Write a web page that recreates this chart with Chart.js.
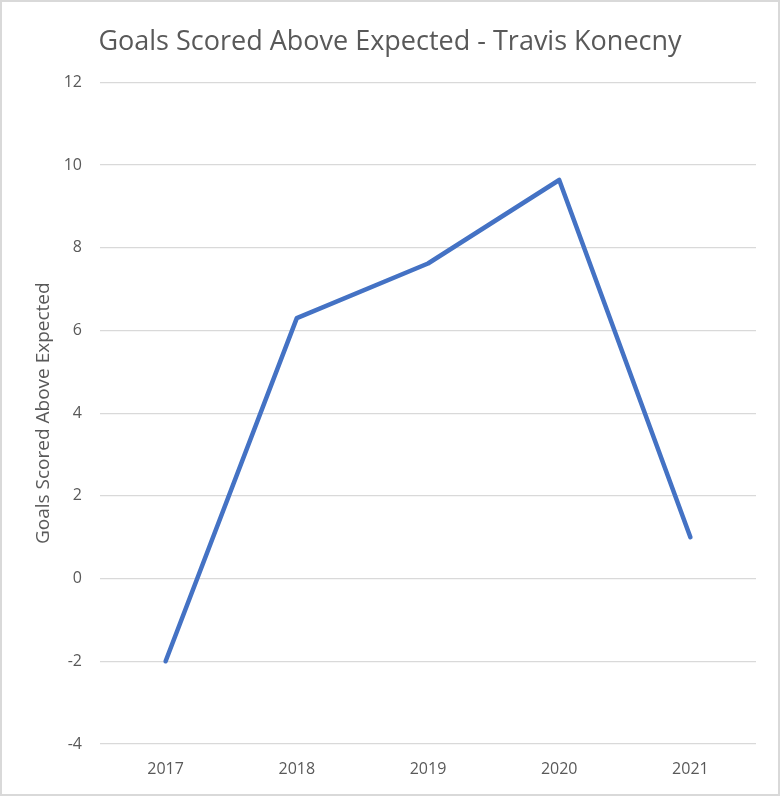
<!DOCTYPE html>
<html lang="en">
    <head>
        <meta charset="UTF-8" />
        <title>Goals Scored Above Expected - Travis Konecny</title>
        <script src="https://cdn.jsdelivr.net/npm/chart.js"></script>
        <style>
            html,
            body {
                margin: 0;
                padding: 0;
                background: #fff;
            }
            #wrap {
                width: 780px;
                height: 796px;
                box-sizing: border-box;
                border: 2px solid #d9d9d9;
                position: relative;
            }
        </style>
    </head>
    <body>
        <div id="wrap">
            <canvas id="chart"></canvas>
        </div>

        <script>
            // values
            const seasons = ["2017", "2018", "2019", "2020", "2021"]
            const goalsAboveExpected = [-2.0, 6.3, 7.62, 9.64, 1.0]
            const yMin = -4
            const yMax = 12
            const yStep = 2

            const grey = "#595959"
            const fontFamily = "'Open Sans', sans-serif"

            const ctx = document.getElementById("chart").getContext("2d")
            new Chart(ctx, {
                type: "line",
                data: {
                    labels: seasons,
                    datasets: [
                        {
                            label: "Goals Scored Above Expected",
                            data: goalsAboveExpected,
                            borderColor: "#4472C4",
                            borderWidth: 4.5,
                            borderCapStyle: "round",
                            borderJoinStyle: "round",
                            pointRadius: 0,
                            tension: 0,
                            fill: false,
                        },
                    ],
                },
                options: {
                    responsive: true,
                    maintainAspectRatio: false,
                    animation: false,
                    layout: { padding: 0 },
                    plugins: {
                        legend: { display: false },
                        tooltip: { enabled: false },
                        title: {
                            display: true,
                            text: "Goals Scored Above Expected - Travis Konecny",
                            color: grey,
                            font: { family: fontFamily, size: 27, weight: "normal" },
                            padding: { top: 24, bottom: 24 },
                        },
                    },
                    scales: {
                        x: {
                            offset: true,
                            grid: { display: false, drawTicks: false },
                            border: { display: false },
                            ticks: {
                                color: grey,
                                font: { family: fontFamily, size: 16 },
                                padding: 16,
                                maxRotation: 0,
                            },
                            afterFit: (scale) => {
                                scale.height = 50
                            },
                        },
                        y: {
                            min: yMin,
                            max: yMax,
                            grid: { color: "#d9d9d9", lineWidth: 1.3, drawTicks: false },
                            border: { display: false },
                            ticks: {
                                stepSize: yStep,
                                color: grey,
                                font: { family: fontFamily, size: 16 },
                                padding: 18,
                            },
                            title: {
                                display: true,
                                text: "Goals Scored Above Expected",
                                color: grey,
                                font: { family: fontFamily, size: 19 },
                                padding: { top: 30, bottom: 0 },
                            },
                            afterFit: (scale) => {
                                scale.width = 98
                            },
                        },
                        // empty right-hand strip so the plot stops short of the border
                        spacer: {
                            type: "linear",
                            position: "right",
                            display: true,
                            grid: { display: false },
                            border: { display: false },
                            ticks: { display: false },
                            afterFit: (scale) => {
                                scale.width = 22
                            },
                        },
                    },
                },
            })
        </script>
    </body>
</html>
